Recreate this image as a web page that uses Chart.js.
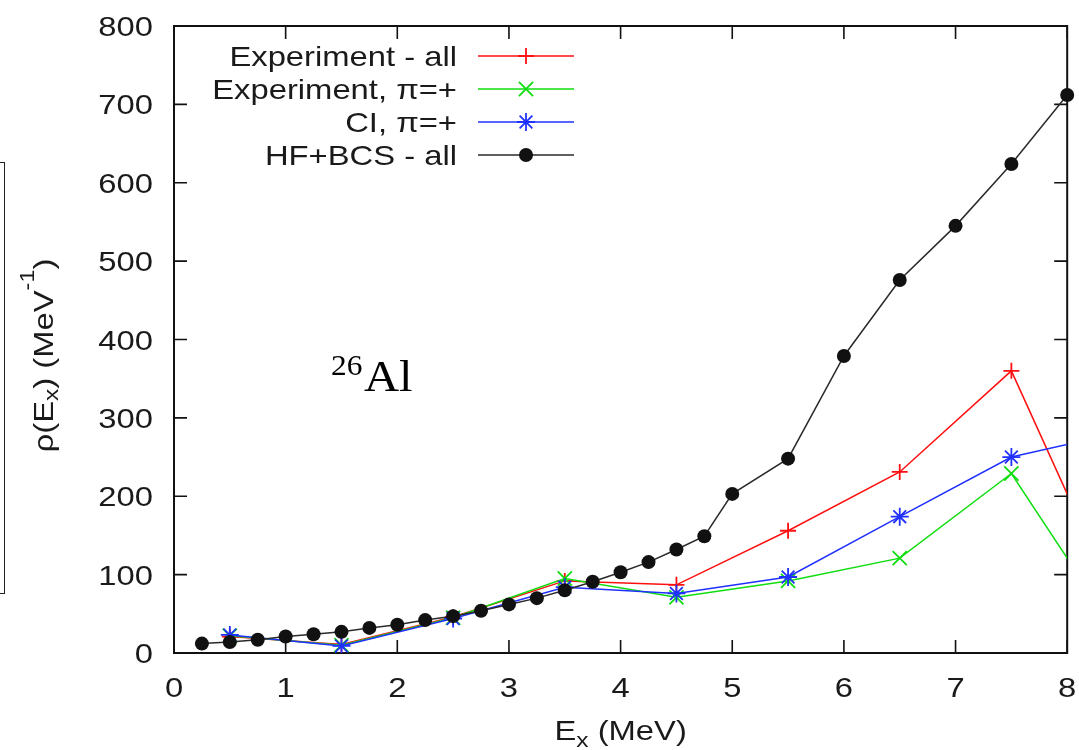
<!DOCTYPE html>
<html>
<head>
<meta charset="utf-8">
<title>26Al level density</title>
<script src="https://cdn.jsdelivr.net/npm/chart.js@4.4.1/dist/chart.umd.min.js"></script>
<style>
  html, body { margin: 0; padding: 0; background: #fff; overflow: hidden; }
  #wrap { position: relative; width: 1079px; height: 750px; }
  #edgeBox { position: absolute; left: -10px; top: 162px; width: 13px; height: 430px; border: 1.5px solid #222; }
  canvas { position: absolute; left: 0; top: 0; }
</style>
</head>
<body>
<div id="wrap">
  <div id="edgeBox"></div>
  <canvas id="chart" width="1079" height="750"></canvas>
</div>
<script>
// Axis ticks
const xTicks = [0, 1, 2, 3, 4, 5, 6, 7, 8];
const yTicks = [0, 100, 200, 300, 400, 500, 600, 700, 800];
const xTickLabels = ['0', '1', '2', '3', '4', '5', '6', '7', '8'];
const yTickLabels = ['0', '100', '200', '300', '400', '500', '600', '700', '800'];

// Level densities (MeV^-1) in 1 MeV bins
const binCentres = [0.5, 1.5, 2.5, 3.5, 4.5, 5.5, 6.5, 7.5, 8.5];
const expAll = [21, 11, 46, 92, 87, 156, 231, 360, 46];
const expPos = [22, 10, 45, 95, 71, 92, 121, 229, 13];
const ciPos  = [23, 9, 44, 84, 76, 97, 174, 250, 282];

// HF+BCS total level density
const hfEnergies = [0.25, 0.5, 0.75, 1.0, 1.25, 1.5, 1.75, 2.0, 2.25, 2.5, 2.75, 3.0, 3.25,
                    3.5, 3.75, 4.0, 4.25, 4.5, 4.75, 5.0, 5.5, 6.0, 6.5, 7.0, 7.5, 8.0];
const hfBcsAll   = [12, 14, 17, 21, 24, 27, 32, 36, 42, 47, 54, 62, 70,
                    80, 91, 103, 116, 132, 149, 203, 248, 379, 476, 545, 624, 712];

const seriesNames = ['Experiment - all', 'Experiment, \u03c0=+', 'CI, \u03c0=+', 'HF+BCS - all'];

const FONT = '"Liberation Sans", Arial, Helvetica, sans-serif';
const SERIF = '"Liberation Serif", "Times New Roman", serif';
const STRETCH = 1.17;
const TEXT_COLOR = '#1a1a1a';

const pts = (xs, ys) => xs.map((x, i) => ({ x: x, y: ys[i] }));

const styles = [
  { color: '#ff1010', pointStyle: 'cross',    radius: 8,  fill: false },
  { color: '#10dd10', pointStyle: 'crossRot', radius: 10, fill: false },
  { color: '#2030ff', pointStyle: 'star',     radius: 9,  fill: false },
  { color: '#111111', pointStyle: 'circle',   radius: 7,  fill: true }
];

function makeDataset(i, data, order, clip) {
  const s = styles[i];
  return {
    label: seriesNames[i],
    data: data,
    borderColor: i === 3 ? '#2a2a2a' : s.color,
    backgroundColor: s.color,
    borderWidth: 1.5,
    pointStyle: s.pointStyle,
    pointRadius: s.radius,
    pointBorderWidth: s.fill ? 0 : 1.8,
    pointBorderColor: s.color,
    pointBackgroundColor: s.color,
    tension: 0,
    fill: false,
    order: order,
    clip: clip
  };
}

// Text drawn with a slight horizontal stretch, as in the plot's typeface
function stretchedText(ctx, str, x, y, align, font, sx) {
  ctx.save();
  ctx.font = font;
  ctx.translate(x, y);
  ctx.scale(sx, 1);
  ctx.textAlign = align;
  ctx.textBaseline = 'alphabetic';
  ctx.fillText(str, 0, 0);
  ctx.restore();
}

// Rich text: segments of {t, size, dy, family}; drawn along the current x axis, centred at 0
function richText(ctx, segs, sx) {
  let total = 0;
  segs.forEach(s => {
    ctx.font = s.size + 'px ' + (s.family || FONT);
    s.w = ctx.measureText(s.t).width * sx;
    total += s.w;
  });
  let x = -total / 2;
  segs.forEach(s => {
    stretchedText(ctx, s.t, x, s.dy || 0, 'left', s.size + 'px ' + (s.family || FONT), sx);
    x += s.w;
  });
}

function drawMarker(ctx, style, x, y) {
  ctx.save();
  ctx.strokeStyle = style.color;
  ctx.fillStyle = style.color;
  ctx.lineWidth = 1.8;
  const r = style.radius;
  if (Chart.helpers && Chart.helpers.drawPoint) {
    Chart.helpers.drawPoint(ctx, { pointStyle: style.pointStyle, radius: r, rotation: 0, borderWidth: style.fill ? 0 : 1.8 }, x, y);
  } else {
    ctx.beginPath();
    if (style.pointStyle === 'circle') {
      ctx.arc(x, y, r, 0, Math.PI * 2); ctx.fill();
    } else {
      const d = r * Math.SQRT1_2;
      if (style.pointStyle !== 'crossRot') { ctx.moveTo(x - r, y); ctx.lineTo(x + r, y); ctx.moveTo(x, y - r); ctx.lineTo(x, y + r); }
      if (style.pointStyle !== 'cross') { ctx.moveTo(x - d, y - d); ctx.lineTo(x + d, y + d); ctx.moveTo(x - d, y + d); ctx.lineTo(x + d, y - d); }
      ctx.stroke();
    }
  }
  ctx.restore();
}

// Frame with inward ticks on all four sides
const framePlugin = {
  id: 'gnuFrame',
  beforeDatasetsDraw(chart) {
    const { ctx, chartArea: a, scales } = chart;
    const len = 13;
    ctx.save();
    ctx.strokeStyle = '#111';
    ctx.lineWidth = 1.6;
    ctx.beginPath();
    scales.x.ticks.forEach(t => {
      const px = scales.x.getPixelForValue(t.value);
      ctx.moveTo(px, a.bottom); ctx.lineTo(px, a.bottom - len);
      ctx.moveTo(px, a.top); ctx.lineTo(px, a.top + len);
    });
    scales.y.ticks.forEach(t => {
      const py = scales.y.getPixelForValue(t.value);
      ctx.moveTo(a.left, py); ctx.lineTo(a.left + len, py);
      ctx.moveTo(a.right, py); ctx.lineTo(a.right - len, py);
    });
    ctx.stroke();
    ctx.lineWidth = 2;
    ctx.strokeRect(a.left, a.top, a.right - a.left, a.bottom - a.top);
    ctx.restore();
  }
};

// Tick labels, axis titles, key and nucleus label
const annotatePlugin = {
  id: 'gnuText',
  afterDraw(chart) {
    const { ctx, chartArea: a, scales } = chart;
    ctx.save();
    ctx.fillStyle = TEXT_COLOR;
    const tickFont = '28px ' + FONT;

    scales.x.ticks.forEach((t, i) => {
      const px = scales.x.getPixelForValue(t.value);
      stretchedText(ctx, xTickLabels[i] !== undefined ? xTickLabels[i] : String(t.value), px, a.bottom + 44, 'center', tickFont, STRETCH);
    });
    scales.y.ticks.forEach((t, i) => {
      const py = scales.y.getPixelForValue(t.value);
      stretchedText(ctx, yTickLabels[i] !== undefined ? yTickLabels[i] : String(t.value), a.left - 21, py + 10, 'right', tickFont, STRETCH);
    });

    // x title: E_x (MeV)
    ctx.save();
    ctx.translate((a.left + a.right) / 2, 740);
    richText(ctx, [
      { t: 'E', size: 28 },
      { t: 'x', size: 21, dy: 7 },
      { t: ' (MeV)', size: 28 }
    ], STRETCH);
    ctx.restore();

    // y title: rho(E_x) (MeV^-1)
    ctx.save();
    ctx.translate(53, (a.top + a.bottom) / 2 + 16);
    ctx.rotate(-Math.PI / 2);
    richText(ctx, [
      { t: '\u03c1(E', size: 28 },
      { t: 'x', size: 21, dy: 5 },
      { t: ') (MeV', size: 28 },
      { t: '-1', size: 20, dy: -19 },
      { t: ')', size: 28 }
    ], STRETCH);
    ctx.restore();

    // Key: text right-aligned, sample line and marker to the right
    const rowBase = [66, 99, 132, 165];
    seriesNames.forEach((name, i) => {
      const yb = rowBase[i];
      ctx.fillStyle = TEXT_COLOR;
      stretchedText(ctx, name, 457, yb, 'right', tickFont, STRETCH);
      const ly = yb - 10;
      ctx.save();
      ctx.strokeStyle = i === 3 ? '#2a2a2a' : styles[i].color;
      ctx.lineWidth = 1.5;
      ctx.beginPath();
      ctx.moveTo(478, ly); ctx.lineTo(574, ly);
      ctx.stroke();
      ctx.restore();
      drawMarker(ctx, styles[i], 526, ly);
    });

    // Nucleus label
    ctx.fillStyle = '#000';
    stretchedText(ctx, '26', 331, 375, 'left', '29px ' + SERIF, 1.08);
    stretchedText(ctx, 'Al', 364, 391, 'left', '45px ' + SERIF, 1.08);
    ctx.restore();
  }
};

new Chart(document.getElementById('chart'), {
  type: 'line',
  data: {
    datasets: [
      makeDataset(0, pts(binCentres, expAll), 4, 0),
      makeDataset(1, pts(binCentres, expPos), 3, 0),
      makeDataset(2, pts(binCentres, ciPos), 2, 0),
      makeDataset(3, pts(hfEnergies, hfBcsAll), 1, false)
    ]
  },
  options: {
    responsive: false,
    animation: false,
    events: [],
    devicePixelRatio: 1,
    layout: { padding: { left: 0, right: 7, top: 26, bottom: 0 } },
    plugins: { legend: { display: false }, tooltip: { enabled: false }, title: { display: false } },
    scales: {
      x: {
        type: 'linear', min: 0, max: 8,
        afterBuildTicks: s => { s.ticks = xTicks.map(v => ({ value: v })); },
        ticks: { display: false },
        grid: { display: false },
        border: { display: false },
        afterFit: s => { s.height = 97; s.paddingLeft = 0; s.paddingRight = 0; }
      },
      y: {
        type: 'linear', min: 0, max: 800,
        afterBuildTicks: s => { s.ticks = yTicks.map(v => ({ value: v })); },
        ticks: { display: false },
        grid: { display: false },
        border: { display: false },
        afterFit: s => { s.width = 174; s.paddingTop = 0; s.paddingBottom = 0; }
      }
    }
  },
  plugins: [framePlugin, annotatePlugin]
});
</script>
</body>
</html>
